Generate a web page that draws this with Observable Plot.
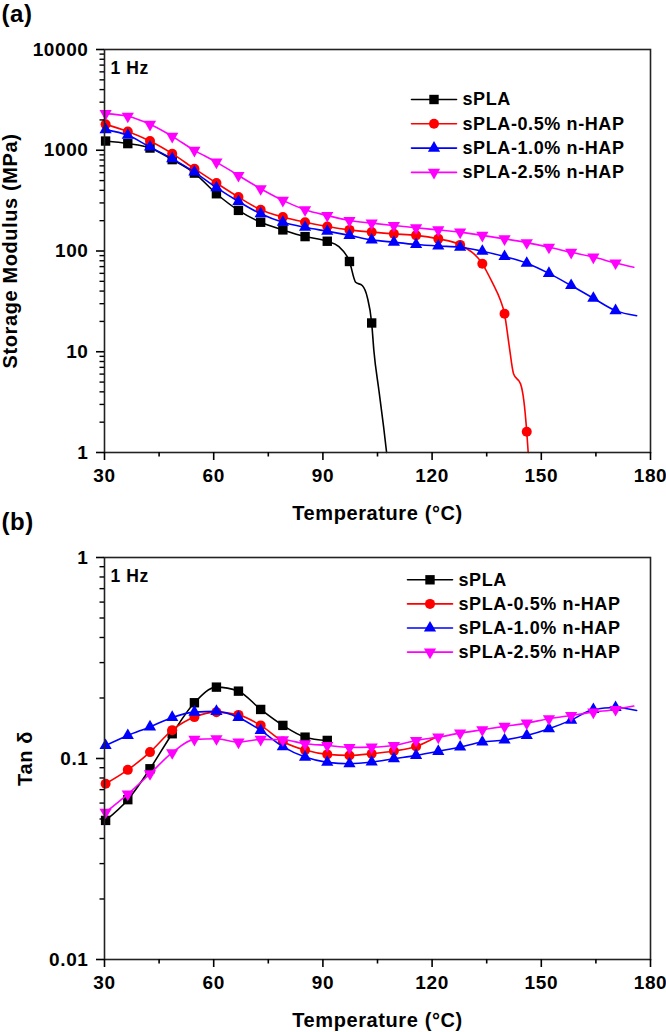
<!DOCTYPE html>
<html><head><meta charset="utf-8">
<script src="https://cdn.jsdelivr.net/npm/d3@7"></script>
<script src="https://cdn.jsdelivr.net/npm/@observablehq/plot@0.6"></script>
<style>
body{margin:0;background:#fff;}
#chart{width:666px;}
#chart svg{display:block;}
#chart svg text{letter-spacing:0.6px;}
</style></head><body><div id="chart"></div>
<script>
// ---------- data ----------
const seriesNames = ["sPLA", "sPLA-0.5% n-HAP", "sPLA-1.0% n-HAP", "sPLA-2.5% n-HAP"];
const seriesColors = ["#000000", "#ff0000", "#0000ff", "#ff00ff"];
const markerTemps = [30.3, 36.4, 42.5, 48.6, 54.7, 60.75, 66.8, 72.9, 79.0, 85.1, 91.2, 97.3,
  103.4, 109.5, 115.6, 121.7, 127.7, 133.8, 139.9, 146.0, 152.1, 158.2, 164.3, 170.4];
const xTicks = [30, 60, 90, 120, 150, 180];
const xMinorTicks = [45, 75, 105, 135, 165];
const yTicksA = [1, 10, 100, 1000, 10000];
const yTicksB = [0.01, 0.1, 1];

// (a) storage modulus, MPa, at marker temperatures
const modulusSPLA   = [1234, 1164, 1052, 807, 593, 370, 253, 193, 162, 139, 125, 78.7, 19.3];
const modulus05     = [1807, 1535, 1234, 925, 656, 472, 343, 257, 217, 193, 175, 162, 154, 148, 143, 132, 115, 74.6, 23.8, 1.61];
const modulus10     = [1603, 1406, 1076, 826, 607, 425, 310, 234, 193, 172, 157, 143, 129, 122, 116, 112, 109, 99.5, 88, 75.7, 60, 45.4, 34, 25.6];
const modulus25     = [2312, 2173, 1808, 1374, 997, 763, 562, 415, 318, 257, 225, 201, 189, 179, 170, 162, 154, 143, 132, 121, 109, 97, 87, 76];
// (a) additional curve points between markers (temperature, modulus)
const modulusExtraT = [[94.3, 99.0, 100.8, 102.2, 104.0, 105.4, 106.7, 107.5],
                       [136.5, 138.8, 141.1, 142.4, 144.3, 145.2, 146.4],
                       [176.2],
                       [175.4]];
const modulusExtraV = [[111, 49, 45.4, 34.7, 10.3, 4.1, 1.77, 1],
                       [49, 32.2, 12, 6.0, 4.8, 3.27, 1],
                       [22.8],
                       [69]];

// (b) tan delta at marker temperatures
const tanSPLA = [0.0492, 0.0624, 0.0889, 0.1328, 0.1894, 0.2265, 0.2163, 0.1754, 0.1461, 0.1277, 0.1230];
const tan05   = [0.0749, 0.0878, 0.1076, 0.1384, 0.1607, 0.1701, 0.1648, 0.1461, 0.1216, 0.1101, 0.1048, 0.1036, 0.1056, 0.1089, 0.1148];
const tan10   = [0.1161, 0.1302, 0.1436, 0.1601, 0.1701, 0.1715, 0.1601, 0.1379, 0.1145, 0.1016, 0.0957, 0.0942,
                 0.0960, 0.0998, 0.1036, 0.1085, 0.1140, 0.1207, 0.1237, 0.1302, 0.1407, 0.1552, 0.1754, 0.1795];
const tan25   = [0.0540, 0.0665, 0.0840, 0.1069, 0.1245, 0.1254, 0.1207, 0.1245, 0.1240, 0.1185, 0.1161, 0.1135,
                 0.1139, 0.1161, 0.1230, 0.1278, 0.1337, 0.1390, 0.1445, 0.1500, 0.1578, 0.1638, 0.1701, 0.1754];
const tanExtraT = [[], [120.9], [176.2], [175.4]];
const tanExtraV = [[], [0.1273], [0.1734], [0.1823]];

// ---------- helpers ----------
const FONT = "'Liberation Sans', Arial, Helvetica, sans-serif";
const W = 666, H = 516;
const ML = 104, MR = 16;

const triUp = {draw(ctx, size) {
  const r = Math.sqrt(size / Math.PI), s = r * 2.35, h = s * Math.sqrt(3) / 2;
  ctx.moveTo(0, -h * 2 / 3); ctx.lineTo(s / 2, h / 3); ctx.lineTo(-s / 2, h / 3); ctx.closePath();
}};
const triDown = {draw(ctx, size) {
  const r = Math.sqrt(size / Math.PI), s = r * 2.35, h = s * Math.sqrt(3) / 2;
  ctx.moveTo(0, h * 2 / 3); ctx.lineTo(s / 2, -h / 3); ctx.lineTo(-s / 2, -h / 3); ctx.closePath();
}};
const symbols = ["square", "circle", triUp, triDown];
const radii = [5.3, 5, 5.2, 5.2];

function markers(vals) { return vals.map((v, i) => ({T: markerTemps[i], v})); }
function lineData(vals, exT, exV) {
  return markers(vals).concat(exT.map((t, i) => ({T: t, v: exV[i]}))).sort((a, b) => a.T - b.T);
}

function panel({label, ytitle, ytitleDx, values, exT, exV, yDomain, yTicks, marginTop, marginBottom, legendX0, legendRow0, legendStep}) {
  const xs = d3.scaleLinear([30, 180], [ML, W - MR]);
  const ys = d3.scaleLog(yDomain, [H - marginBottom, marginTop]);
  const minorY = [];
  for (let e = Math.round(Math.log10(yDomain[0])); e < Math.round(Math.log10(yDomain[1])); e++)
    for (let m = 2; m <= 9; m++) minorY.push(+(m * Math.pow(10, e)).toPrecision(3));
  const marks = [];
  values.forEach((vals, i) => {
    marks.push(Plot.line(lineData(vals, exT[i], exV[i]), {x: "T", y: "v", stroke: seriesColors[i], strokeWidth: 1.6, curve: "monotone-x"}));
    marks.push(Plot.dot(markers(vals), {x: "T", y: "v", fill: seriesColors[i], r: radii[i], symbol: symbols[i]}));
  });
  // legend
  seriesNames.forEach((name, i) => {
    const py = legendRow0 + legendStep * i;
    const yv = ys.invert(py);
    marks.push(Plot.line([{x: xs.invert(legendX0), y: yv}, {x: xs.invert(legendX0 + 45), y: yv}], {x: "x", y: "y", stroke: seriesColors[i], strokeWidth: 1.6}));
    marks.push(Plot.dot([{x: xs.invert(legendX0 + 22.5), y: yv}], {x: "x", y: "y", fill: seriesColors[i], r: radii[i], symbol: symbols[i]}));
    marks.push(Plot.text([{x: xs.invert(legendX0 + 51), y: yv, t: name}], {x: "x", y: "y", text: "t", textAnchor: "start", lineAnchor: "middle", fontSize: 18, fontWeight: "bold", fill: "#000"}));
  });
  marks.push(
    Plot.frame({stroke: "#222", strokeWidth: 1.6}),
    Plot.axisX(xTicks, {tickSize: 8, tickPadding: 8, fontSize: 19, fontWeight: "bold", label: null, strokeWidth: 1.6, tickFormat: d => String(d)}),
    Plot.axisX(xMinorTicks, {tickSize: 4.5, label: null, strokeWidth: 1.6, tickFormat: () => ""}),
    Plot.axisY(yTicks, {tickSize: 8, tickPadding: 8, fontSize: 19, fontWeight: "bold", label: null, strokeWidth: 1.6, tickFormat: d => String(d)}),
    Plot.axisY(minorY, {tickSize: 4.5, label: null, strokeWidth: 1.4, tickFormat: () => ""}),
    Plot.text([label], {frameAnchor: "top-left", dx: -103, dy: -35, text: d => d, textAnchor: "start", lineAnchor: "middle", fontSize: 24, fontWeight: "bold"}),
    Plot.text(["1 Hz"], {frameAnchor: "top-left", dx: 6, dy: 19, text: d => d, textAnchor: "start", lineAnchor: "middle", fontSize: 17.5, fontWeight: "bold"}),
    Plot.text([ytitle], {frameAnchor: "left", dx: ytitleDx, rotate: -90, text: d => d, textAnchor: "middle", lineAnchor: "middle", fontSize: 20, fontWeight: "bold"}),
    Plot.text(["Temperature (\u00B0C)"], {frameAnchor: "bottom", dy: 61, text: d => d, textAnchor: "middle", lineAnchor: "middle", fontSize: 20, fontWeight: "bold"})
  );
  return Plot.plot({
    width: W, height: H,
    marginLeft: ML, marginRight: MR, marginTop, marginBottom,
    style: {fontFamily: FONT, background: "#fff", overflow: "visible", color: "#000"},
    x: {domain: [30, 180]},
    y: {type: "log", domain: yDomain},
    marks
  });
}

const chartA = panel({
  label: "(a)", ytitle: "Storage Modulus (MPa)", ytitleDx: -94,
  values: [modulusSPLA, modulus05, modulus10, modulus25],
  exT: modulusExtraT, exV: modulusExtraV,
  yDomain: [1, 10000], yTicks: yTicksA, marginTop: 49, marginBottom: 64,
  legendX0: 411, legendRow0: 99, legendStep: 24.3
});
const chartB = panel({
  label: "(b)", ytitle: "Tan \u03B4", ytitleDx: -79,
  values: [tanSPLA, tan05, tan10, tan25],
  exT: tanExtraT, exV: tanExtraV,
  yDomain: [0.01, 1], yTicks: yTicksB, marginTop: 41, marginBottom: 73,
  legendX0: 407, legendRow0: 63.3, legendStep: 24.1
});
document.getElementById("chart").append(chartA, chartB);
</script></body></html>
